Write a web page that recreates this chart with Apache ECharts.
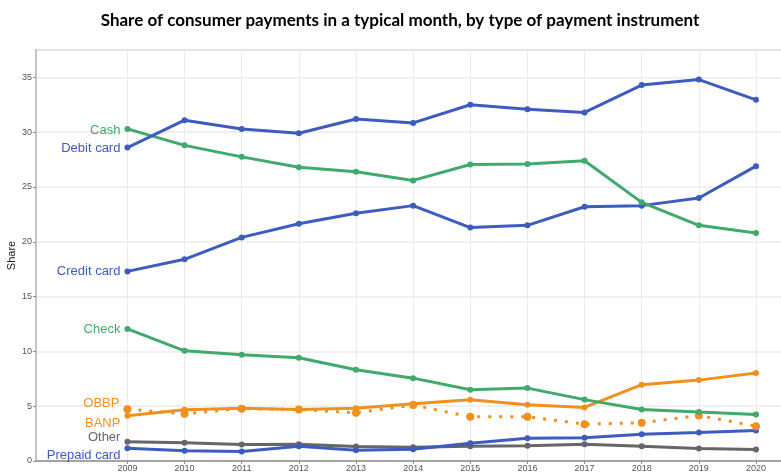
<!DOCTYPE html>
<html>
<head>
<meta charset="utf-8">
<script src="https://cdn.jsdelivr.net/npm/echarts@6/dist/echarts.min.js"></script>
<style>
  html, body { margin: 0; padding: 0; background: #fff; }
  #main { width: 781px; height: 472px; }
</style>
</head>
<body>
<div id="main"></div>
<script>
var years = [2009, 2010, 2011, 2012, 2013, 2014, 2015, 2016, 2017, 2018, 2019, 2020];
var yTicks = [0, 5, 10, 15, 20, 25, 30, 35];

var debitCard   = [28.6, 31.1, 30.3, 29.9, 31.2, 30.85, 32.5, 32.1, 31.8, 34.3, 34.8, 32.95];
var cash        = [30.3, 28.8, 27.75, 26.8, 26.4, 25.6, 27.05, 27.1, 27.4, 23.6, 21.5, 20.8];
var creditCard  = [17.3, 18.4, 20.4, 21.65, 22.6, 23.3, 21.3, 21.5, 23.2, 23.3, 24.0, 26.9];
var check       = [12.05, 10.05, 9.7, 9.42, 8.33, 7.56, 6.5, 6.65, 5.6, 4.7, 4.46, 4.25];
var banp        = [4.13, 4.67, 4.82, 4.7, 4.82, 5.22, 5.59, 5.13, 4.89, 6.96, 7.38, 8.02];
var obbp        = [4.73, 4.31, 4.77, 4.7, 4.4, 5.1, 4.04, 4.04, 3.36, 3.49, 4.15, 3.18];
var other       = [1.75, 1.66, 1.5, 1.53, 1.32, 1.26, 1.35, 1.39, 1.53, 1.35, 1.14, 1.05];
var prepaidCard = [1.17, 0.93, 0.87, 1.35, 0.99, 1.08, 1.63, 2.08, 2.12, 2.45, 2.6, 2.79];

var BLUE = '#3d5cbf', GREEN = '#3faa6b', ORANGE = '#f0911f', GRAY = '#666666';

function makeSeries(name, values, color, opts) {
  opts = opts || {};
  var data = values.map(function (v, i) {
    var item = { value: [years[i], v] };
    if (i === 0) {
      item.label = {
        show: true,
        position: 'left',
        distance: 4,
        offset: [0, opts.dy || 0],
        formatter: name,
        color: color,
        fontSize: 13,
        fontFamily: 'Liberation Sans, Arial, sans-serif'
      };
    }
    return item;
  });
  return {
    name: name,
    type: 'line',
    data: data,
    symbol: 'circle',
    symbolSize: opts.symbolSize || 6,
    itemStyle: { color: color },
    lineStyle: { color: color, width: 3, type: opts.dash || 'solid', cap: 'butt' },
    emphasis: { disabled: true },
    animation: false,
    z: opts.z || 2
  };
}

var chart = echarts.init(document.getElementById('main'));
chart.setOption({
  backgroundColor: '#fff',
  title: {
    text: 'Share of consumer payments in a typical month, by type of payment instrument',
    left: 395, top: 7, textAlign: 'center',
    textStyle: { fontSize: 17, fontWeight: 'bold', color: '#000', fontFamily: 'Lato, sans-serif' }
  },
  grid: {
    left: 36, right: -3, top: 50, bottom: 11, outerBoundsMode: 'none', containLabel: false,
    show: true, borderColor: '#dcdcdc', borderWidth: 1.5
  },
  xAxis: {
    type: 'value',
    min: 2007.4, max: 2020.49,
    axisLine: { show: true, lineStyle: { color: '#8c8c8c', width: 1.5 } },
    axisTick: { show: true, customValues: years, length: 3, lineStyle: { color: '#8c8c8c' } },
    axisLabel: { customValues: years, margin: 3, fontSize: 9, color: '#555', formatter: function (v) { return String(v); } },
    splitLine: { show: true, lineStyle: { color: '#ebebeb', width: 1 } }
  },
  yAxis: {
    type: 'value',
    min: 0, max: 37.5, interval: 5,
    name: 'Share', nameLocation: 'middle', nameGap: 19, nameMoveOverlap: false,
    nameTextStyle: { fontSize: 11, color: '#222', fontFamily: 'Liberation Sans, Arial, sans-serif' },
    axisLine: { show: true, lineStyle: { color: '#c4c4c4', width: 2 } },
    axisTick: { show: true, customValues: yTicks, length: 3, lineStyle: { color: '#8c8c8c' } },
    axisLabel: { fontSize: 9, color: '#555', margin: 4, customValues: yTicks },
    splitLine: { show: true, lineStyle: { color: '#ebebeb', width: 1.5 } }
  },
  series: [
    makeSeries('Other', other, GRAY, { dy: -4 }),
    makeSeries('Prepaid card', prepaidCard, BLUE, { dy: 7 }),
    makeSeries('OBBP', obbp, ORANGE, { dash: [3, 8], symbolSize: 8, dy: -6 }),
    makeSeries('BANP', banp, ORANGE, { dy: 8 }),
    makeSeries('Check', check, GREEN, { dy: 0 }),
    makeSeries('Credit card', creditCard, BLUE, { dy: 0 }),
    makeSeries('Cash', cash, GREEN, { dy: 2 }),
    makeSeries('Debit card', debitCard, BLUE, { dy: 1 })
  ]
});
</script>
</body>
</html>
